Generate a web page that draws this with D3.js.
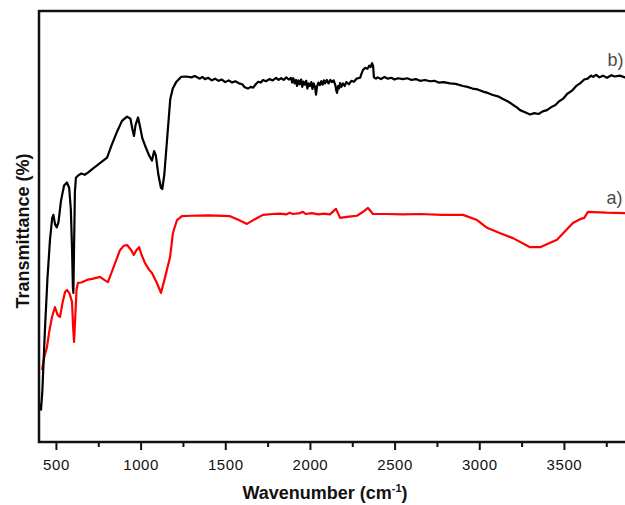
<!DOCTYPE html>
<html>
<head>
<meta charset="utf-8">
<script src="https://cdn.jsdelivr.net/npm/d3@7"></script>
<style>
  body { margin: 0; background: #fff; }
  .axis text { font-family: "Liberation Sans", Arial, sans-serif; font-size: 15px; letter-spacing: 0.6px; }
  .label { font-family: "Liberation Sans", Arial, sans-serif; font-weight: bold; }
</style>
</head>
<body>
<div id="ftir-chart"></div>
<script>
// spectrum b) (black), [wavenumber, transmittance]
var spectrumB = [
  [405, 9], [412, 7.5], [420, 12], [435, 26], [450, 38], [465, 47], [478, 52], [485, 52.7],
  [495, 50.5], [505, 49.8], [515, 51], [530, 56], [548, 59.5], [565, 60.2], [578, 59],
  [588, 54], [595, 45], [600, 36], [603, 34.6], [607, 45], [612, 58], [618, 61.3],
  [630, 61.8], [650, 62.3], [670, 62.0], [689, 62.5], [720, 63.5], [760, 64.7], [802, 66],
  [830, 69], [861, 72], [890, 74.5], [920, 75.5], [940, 75], [952, 72.5], [961, 71],
  [970, 73.5], [985, 75.3], [995, 73.5], [1010, 70.5], [1026, 68.8], [1050, 66.5],
  [1067, 65.3], [1080, 67.5], [1090, 66.5], [1105, 62], [1120, 59], [1128, 58.7],
  [1140, 62], [1160, 72], [1175, 79.5], [1190, 82], [1210, 83.5], [1239, 84.7],
  [1270, 84.8], [1300, 84.6], [1320, 84.9], [1350, 84.3], [1365, 84.7], [1380, 84.2],
  [1400, 84.5], [1420, 83.9], [1440, 84.3], [1460, 83.8], [1480, 84.1], [1500, 83.5],
  [1520, 83.9], [1540, 83.4], [1560, 83.7], [1581, 83.2], [1600, 83.0], [1615, 82.3],
  [1634, 82.0], [1650, 82.4], [1665, 82.2], [1680, 83.0], [1695, 83.6], [1710, 83.4],
  [1723, 84.0], [1740, 83.7], [1760, 84.2], [1780, 83.9], [1800, 84.5], [1815, 84.0],
  [1830, 84.4], [1845, 84.0], [1860, 84.6], [1875, 84.1], [1888, 84.5], [1895, 83.4],
  [1902, 84.4], [1910, 83.2], [1918, 84.0], [1924, 82.6], [1932, 83.9], [1940, 83.0],
  [1948, 84.1], [1955, 82.4], [1962, 83.6], [1970, 82.9], [1978, 83.8], [1985, 82.0],
  [1992, 83.2], [2000, 82.6], [2008, 83.5], [2015, 81.9], [2022, 83.2], [2030, 82.4],
  [2036, 80.6], [2042, 82.5], [2050, 83.4], [2059, 82.8], [2067, 83.7], [2075, 82.9],
  [2083, 83.9], [2089, 83.2], [2100, 84.0], [2110, 83.2], [2120, 84.0], [2130, 83.5],
  [2140, 83.9], [2150, 82.8], [2156, 81.5], [2160, 81.0], [2166, 82.6], [2172, 82.0],
  [2178, 83.3], [2186, 82.4], [2195, 83.2], [2205, 82.6], [2215, 83.5], [2230, 83.0],
  [2245, 83.8], [2260, 83.6], [2275, 84.3], [2296, 84.5], [2305, 85.5], [2313, 86.3],
  [2325, 86.8], [2340, 86.6], [2350, 87.3], [2358, 87.0], [2367, 87.9], [2373, 87.2],
  [2378, 84.6], [2390, 84.3], [2400, 84.6], [2420, 84.2], [2440, 84.7], [2460, 84.3],
  [2480, 84.5], [2500, 84.1], [2520, 84.4], [2550, 84.2], [2575, 84.4], [2600, 84.0],
  [2625, 84.2], [2650, 83.8], [2680, 84.0], [2709, 83.7], [2735, 83.8], [2760, 83.4],
  [2790, 83.5], [2827, 83.2], [2860, 83.1], [2904, 82.6], [2930, 82.4], [2960, 82.0],
  [2990, 81.8], [3022, 81.3], [3050, 81.0], [3080, 80.5], [3110, 80.2], [3140, 79.6],
  [3170, 79.0], [3200, 78.2], [3220, 77.7], [3241, 77.0], [3270, 76.5], [3300, 76.0],
  [3325, 76.3], [3350, 76.1], [3375, 76.7], [3400, 77.0], [3425, 77.7], [3450, 78.2],
  [3470, 79.0], [3494, 79.6], [3520, 80.8], [3550, 81.6], [3575, 82.7], [3595, 83.2],
  [3620, 84.1], [3640, 84.3], [3660, 85.0], [3672, 84.7], [3690, 85.2], [3710, 84.6],
  [3730, 85.0], [3754, 84.5], [3780, 85.1], [3800, 84.8], [3830, 85.0], [3861, 84.6],
  [3920, 84.8], [4000, 84.5]
];

// spectrum a) (red)
var spectrumA = [
  [418, 16.7], [430, 19.5], [447, 22], [462, 26], [477, 29], [494, 31.3], [510, 29.5],
  [524, 29], [540, 32.5], [554, 34.8], [565, 35.3], [580, 34.5], [595, 32.5], [601, 27],
  [607, 23.2], [613, 28], [622, 35.5], [630, 36.9], [650, 37], [683, 37.6], [720, 37.9],
  [760, 38.3], [790, 37.5], [807, 37.1], [840, 40.5], [878, 44.5], [900, 45.5],
  [920, 45.7], [945, 44.5], [960, 43.4], [975, 44.5], [991, 45.2], [1005, 43.5],
  [1026, 41.5], [1050, 40], [1067, 39.2], [1095, 37], [1120, 34.6], [1140, 37.5],
  [1174, 42.9], [1191, 48.5], [1215, 51.5], [1244, 52.4], [1300, 52.5], [1400, 52.6],
  [1528, 52.4], [1580, 51.5], [1628, 50.6], [1680, 51.8], [1723, 52.7], [1780, 52.9],
  [1823, 53.0], [1860, 52.8], [1880, 53.2], [1900, 52.9], [1940, 53.1], [1959, 53.4],
  [1975, 52.9], [2010, 53.1], [2050, 52.8], [2080, 53.0], [2118, 52.8], [2154, 54.1],
  [2178, 52.0], [2230, 52.3], [2278, 52.5], [2310, 53.3], [2343, 54.3], [2372, 52.9],
  [2450, 52.9], [2550, 52.8], [2650, 52.9], [2780, 52.7], [2904, 52.7], [2987, 51.5],
  [3046, 49.7], [3120, 48.5], [3199, 47.3], [3300, 45.2], [3359, 45.2], [3459, 46.9],
  [3553, 50.8], [3595, 51.7], [3620, 52.0], [3642, 53.4], [3750, 53.2], [3861, 53.1],
  [4000, 53.0]
];

var majorTicks = [500, 1000, 1500, 2000, 2500, 3000, 3500];
var minorTicks = [750, 1250, 1750, 2250, 2750, 3250, 3750];

var seriesLabels = ["a)", "b)"];

SpectraVis = function (_parentElement) {
  this.parentElement = _parentElement;
  this.initVis();
};

SpectraVis.prototype.initVis = function () {
  var vis = this;

  vis.margin = { top: 11, right: 0, bottom: 63, left: 39 };
  vis.width = 625 - vis.margin.left - vis.margin.right;
  vis.height = 505 - vis.margin.top - vis.margin.bottom;

  vis.svg = d3
    .select("#" + vis.parentElement)
    .append("svg")
    .attr("width", 625)
    .attr("height", 505)
    .append("g")
    .attr("transform", "translate(" + vis.margin.left + "," + vis.margin.top + ")");

  // axis runs past the right edge of the picture (cropped near 3900)
  vis.x = d3.scaleLinear().domain([400, 4000]).range([0, 609.6]);
  vis.y = d3.scaleLinear().domain([0, 100]).range([vis.height, 0]);

  vis.updateVis();
};

SpectraVis.prototype.updateVis = function () {
  var vis = this;

  var line = d3
    .line()
    .x((d) => vis.x(d[0]))
    .y((d) => vis.y(d[1]));

  vis.svg
    .append("path")
    .datum(spectrumA)
    .attr("fill", "none")
    .attr("stroke", "#ff0000")
    .attr("stroke-width", 2.2)
    .attr("stroke-linejoin", "round")
    .attr("d", line);

  vis.svg
    .append("path")
    .datum(spectrumB)
    .attr("fill", "none")
    .attr("stroke", "#000")
    .attr("stroke-width", 2.2)
    .attr("stroke-linejoin", "round")
    .attr("d", line);

  // frame
  vis.svg
    .append("rect")
    .attr("x", 0)
    .attr("y", 0)
    .attr("width", 609.6)
    .attr("height", vis.height)
    .attr("fill", "none")
    .attr("stroke", "#111")
    .attr("stroke-width", 2.5);

  // axes
  vis.xAxis = d3.axisBottom(vis.x).tickValues(majorTicks).tickSize(8).tickPadding(9).tickFormat(d3.format("d"));
  vis.xMinor = d3.axisBottom(vis.x).tickValues(minorTicks).tickSize(5).tickFormat("");

  vis.svg
    .append("g")
    .attr("class", "x-axis axis")
    .attr("transform", "translate(0," + vis.height + ")")
    .call(vis.xAxis)
    .call((g) => g.select(".domain").remove())
    .call((g) => g.selectAll(".tick line").attr("stroke", "#111").attr("stroke-width", 2))
    .call((g) => g.selectAll(".tick text").attr("fill", "#111"));

  vis.svg
    .append("g")
    .attr("class", "x-axis axis")
    .attr("transform", "translate(0," + vis.height + ")")
    .call(vis.xMinor)
    .call((g) => g.select(".domain").remove())
    .call((g) => g.selectAll(".tick line").attr("stroke", "#111").attr("stroke-width", 2));

  // axis labels
  var xLabel = vis.svg
    .append("text")
    .attr("class", "label")
    .attr("text-anchor", "middle")
    .attr("x", 325 - vis.margin.left)
    .attr("y", 499 - vis.margin.top)
    .style("font-size", "18px")
    .attr("fill", "#111");
  xLabel.append("tspan").text("Wavenumber (cm");
  xLabel.append("tspan").attr("dy", -7).style("font-size", "11px").text("-1");
  xLabel.append("tspan").attr("dy", 7).text(")");

  vis.svg
    .append("text")
    .attr("class", "label")
    .attr("text-anchor", "middle")
    .attr("transform", "translate(" + (29 - vis.margin.left) + "," + (231 - vis.margin.top) + ") rotate(-90)")
    .style("font-size", "18px")
    .attr("fill", "#111")
    .text("Transmittance (%)");

  // series labels
  var labelPos = [[3752, 55.2], [3758, 87.3]];
  seriesLabels.forEach(function (lbl, i) {
    vis.svg
      .append("text")
      .attr("x", vis.x(labelPos[i][0]))
      .attr("y", vis.y(labelPos[i][1]))
      .style("font-family", "Liberation Sans, Arial, sans-serif")
      .style("font-size", "18px")
      .attr("fill", "#4a4a4a")
      .text(lbl);
  });
};

new SpectraVis("ftir-chart");
</script>
</body>
</html>
